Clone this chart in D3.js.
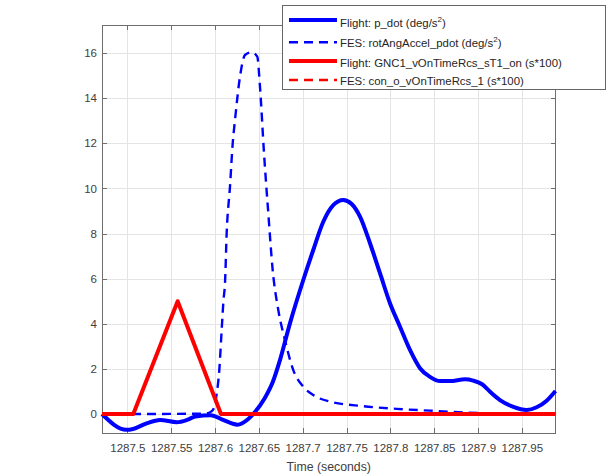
<!DOCTYPE html>
<html lang="en">
<head>
<meta charset="UTF-8">
<title>Flight vs FES</title>
<script src="https://cdnjs.cloudflare.com/ajax/libs/d3/7.8.5/d3.min.js"></script>
<style>
    body {
        margin: 0;
        background: #fff;
        font-family: "Liberation Sans", Arial, sans-serif;
    }

    .grid line {
        stroke: #e4e4e4;
        shape-rendering: crispEdges;
    }

    .grid path,
    .axis path {
        display: none;
    }

    .axis line {
        stroke: #6e6e6e;
        shape-rendering: crispEdges;
    }

    .axis text {
        fill: #404040;
        font-size: 11.5px;
        font-family: "Liberation Sans", Arial, sans-serif;
    }

    .legend text {
        fill: #262626;
        font-size: 11.4px;
    }
</style>
</head>
<body>
<svg id="chart"></svg>
<script>
    const width = 607;
    const height = 474;
    const plotLeft = 102, plotRight = 555.5, plotTop = 25, plotBottom = 433;

    // Flight: p_dot (deg/s^2)
    const flightTime = [1287.4711, 1287.4988, 1287.5065, 1287.5219, 1287.5373, 1287.5564, 1287.5681,
        1287.5776, 1287.5950, 1287.6065, 1287.6257, 1287.6373, 1287.6449, 1287.6565, 1287.6660,
        1287.6741, 1287.6855, 1287.7007, 1287.7121, 1287.7235, 1287.7349, 1287.7463, 1287.7559,
        1287.7654, 1287.7768, 1287.7882, 1287.7996, 1287.8110, 1287.8224, 1287.8338, 1287.8452,
        1287.8566, 1287.8680, 1287.8852, 1287.8946, 1287.9042, 1287.9137, 1287.9251, 1287.9403,
        1287.9555, 1287.9669, 1287.9783, 1287.9884];
    const flightPdot = [0.0, -0.70, -0.66, -0.41, -0.26, -0.36, -0.26,
        -0.11, -0.05, -0.21, -0.47, -0.24, 0.06, 0.69, 1.43,
        2.39, 4.02, 5.94, 7.27, 8.52, 9.26, 9.49, 9.31,
        8.75, 7.57, 6.24, 4.91, 3.87, 2.84, 2.03, 1.65,
        1.46, 1.46, 1.54, 1.48, 1.33, 0.99, 0.62, 0.32,
        0.18, 0.30, 0.59, 1.02];

    // FES: rotAngAccel_pdot (deg/s^2)
    const fesTime = [1287.4711, 1287.5065, 1287.5886, 1287.5954, 1287.5989, 1287.6017, 1287.6049,
        1287.6076, 1287.6097, 1287.6114, 1287.6133, 1287.6171, 1287.6202, 1287.6228, 1287.6285,
        1287.6342, 1287.6419, 1287.6482, 1287.6513, 1287.6559, 1287.6608, 1287.6658, 1287.6722,
        1287.6798, 1287.6893, 1287.7007, 1287.7121, 1287.7312, 1287.7692, 1287.8073, 1287.8452,
        1287.8738, 1287.9251, 1287.9884];
    const fesPdot = [0, 0, 0.02, 0.10, 0.27, 0.84, 1.95,
        3.72, 5.05, 5.80, 8.00, 10.08, 12.00, 13.03, 14.95,
        15.91, 16.03, 15.84, 14.51, 11.56, 8.90, 6.38, 4.61,
        3.28, 1.95, 1.21, 0.84, 0.55, 0.35, 0.23, 0.15,
        0.09, 0.02, 0];

    // RCS on-time (s*100)
    const rcsTime = [1287.4711, 1287.5068, 1287.5574, 1287.6068, 1287.9884];
    const rcsFlight = [0, 0, 5, 0, 0];
    const rcsFes = [0, 0, 5, 0, 0];

    const xTicks = [1287.5, 1287.55, 1287.6, 1287.65, 1287.7, 1287.75, 1287.8, 1287.85, 1287.9, 1287.95];
    const xTickLabels = ["1287.5", "1287.55", "1287.6", "1287.65", "1287.7", "1287.75", "1287.8", "1287.85", "1287.9", "1287.95"];
    const yTicks = [0, 2, 4, 6, 8, 10, 12, 14, 16];

    const legendLabels = [
        ["Flight: p_dot (deg/s", "2", ")"],
        ["FES: rotAngAccel_pdot (deg/s", "2", ")"],
        ["Flight: GNC1_vOnTimeRcs_sT1_on (s*100)"],
        ["FES: con_o_vOnTimeRcs_1 (s*100)"]
    ];

    let svg = d3.select("#chart")
        .attr("width", width)
        .attr("height", height);

    let x = d3.scaleLinear()
        .domain([1287.4711, 1287.9884])
        .range([plotLeft, plotRight]);

    let y = d3.scaleLinear()
        .domain([-0.84, 17.24])
        .range([plotBottom, plotTop]);

    // grid
    svg.append("g")
        .attr("class", "grid")
        .attr("transform", "translate(0," + plotBottom + ")")
        .call(d3.axisBottom(x).tickValues(xTicks).tickSize(-(plotBottom - plotTop)).tickFormat(""));

    svg.append("g")
        .attr("class", "grid")
        .attr("transform", "translate(" + plotLeft + ",0)")
        .call(d3.axisLeft(y).tickValues(yTicks).tickSize(-(plotRight - plotLeft)).tickFormat(""));

    // axes with inward ticks
    svg.append("g")
        .attr("class", "axis")
        .attr("transform", "translate(0," + plotBottom + ")")
        .call(d3.axisBottom(x).tickValues(xTicks).tickSizeInner(-5).tickSizeOuter(0)
            .tickPadding(11).tickFormat((d, i) => xTickLabels[i]));

    svg.append("g")
        .attr("class", "axis")
        .attr("transform", "translate(0," + plotTop + ")")
        .call(d3.axisTop(x).tickValues(xTicks).tickSizeInner(-5).tickSizeOuter(0).tickFormat(""));

    svg.append("g")
        .attr("class", "axis")
        .attr("transform", "translate(" + plotLeft + ",0)")
        .call(d3.axisLeft(y).tickValues(yTicks).tickSizeInner(-5).tickSizeOuter(0).tickPadding(5));

    svg.append("g")
        .attr("class", "axis")
        .attr("transform", "translate(" + plotRight + ",0)")
        .call(d3.axisRight(y).tickValues(yTicks).tickSizeInner(-5).tickSizeOuter(0).tickFormat(""));

    svg.append("rect")
        .attr("x", plotLeft)
        .attr("y", plotTop)
        .attr("width", plotRight - plotLeft)
        .attr("height", plotBottom - plotTop)
        .style("fill", "none")
        .style("stroke", "#6e6e6e")
        .style("shape-rendering", "crispEdges");

    svg.append("text")
        .attr("x", (plotLeft + plotRight) / 2)
        .attr("y", 471)
        .attr("text-anchor", "middle")
        .style("font-size", "12.3px")
        .style("fill", "#404040")
        .text("Time (seconds)");

    // lines (blue traces are smooth signals, red ones are piecewise)
    let smoothLine = d3.line()
        .x(d => x(d[0]))
        .y(d => y(d[1]))
        .curve(d3.curveMonotoneX);

    let straightLine = d3.line()
        .x(d => x(d[0]))
        .y(d => y(d[1]));

    const series = [
        { t: flightTime, v: flightPdot, color: "#0000ff", width: 4, dash: null, gen: smoothLine },
        { t: fesTime, v: fesPdot, color: "#0000ff", width: 2.4, dash: "9,6", gen: smoothLine },
        { t: rcsTime, v: rcsFlight, color: "#ff0000", width: 4, dash: null, gen: straightLine },
        { t: rcsTime, v: rcsFes, color: "#ff0000", width: 2.4, dash: "9,6", gen: straightLine }
    ];

    svg.selectAll(".series")
        .data(series)
        .join("path")
        .attr("class", "series")
        .attr("d", s => s.gen(d3.zip(s.t, s.v)))
        .style("fill", "none")
        .style("stroke", s => s.color)
        .style("stroke-width", s => s.width)
        .style("stroke-dasharray", s => s.dash)
        .style("stroke-linejoin", "round");

    // legend
    let legend = svg.append("g").attr("class", "legend");

    legend.append("rect")
        .attr("x", 282.5)
        .attr("y", 5.5)
        .attr("width", 323)
        .attr("height", 84)
        .style("fill", "white")
        .style("stroke", "#666");

    const rowLineY = [20, 42.3, 61, 80];
    const rowTextY = [26.7, 47.3, 66.7, 85];

    legend.selectAll(".legend-line")
        .data(series)
        .join("line")
        .attr("class", "legend-line")
        .attr("x1", 289)
        .attr("x2", 337)
        .attr("y1", (s, i) => rowLineY[i])
        .attr("y2", (s, i) => rowLineY[i])
        .style("stroke", s => s.color)
        .style("stroke-width", s => s.width)
        .style("stroke-dasharray", s => s.dash);

    legend.selectAll(".legend-text")
        .data(legendLabels)
        .join("text")
        .attr("class", "legend-text")
        .attr("x", 340)
        .attr("y", (d, i) => rowTextY[i])
        .each(function (d) {
            let t = d3.select(this);
            t.append("tspan").text(d[0]);
            if (d.length > 1) {
                t.append("tspan").attr("dy", -5).style("font-size", "8px").text(d[1]);
                t.append("tspan").attr("dy", 5).text(d[2]);
            }
        });
</script>
</body>
</html>
